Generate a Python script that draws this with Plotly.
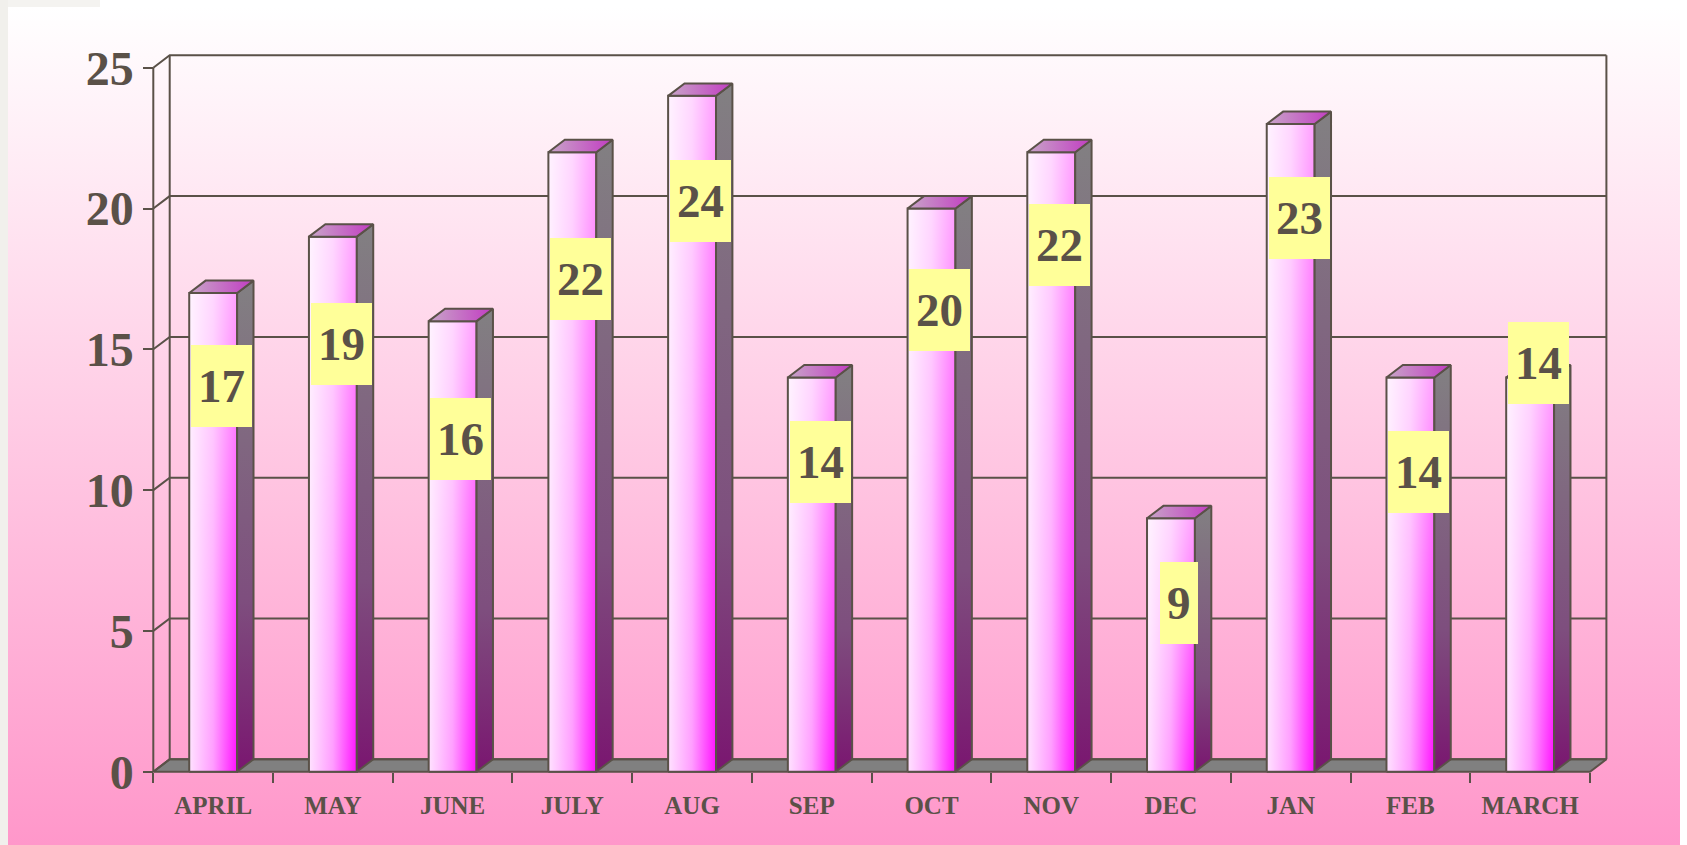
import plotly.graph_objects as go

# ---------------- data ----------------
months = ["APRIL", "MAY", "JUNE", "JULY", "AUG", "SEP", "OCT", "NOV", "DEC", "JAN", "FEB", "MARCH"]
values = [17, 19, 16, 22, 24, 14, 20, 22, 9, 23, 14, 14]
y_ticks = [0, 5, 10, 15, 20, 25]

# label box vertical shift relative to bar top (layout, not data)
label_shift = [-3.3, -3.8, -4.2, -4.5, -3.75, -3.0, -3.6, -3.3, -3.0, -3.35, -3.35, 0.5]

# ---------------- geometry / style ----------------
W, H = 1687, 845
INK = "#5a5148"
FONT = "Liberation Serif"
n = len(months)
YTOP = y_ticks[-1]

PX0, PX1 = 153.3, 1590.0      # front plane x of first / last category boundary
PY0, PYTOP = 771.7, 67.7      # front plane y of 0 and of top tick
ux = (PX1 - PX0) / n
uy = (PY0 - PYTOP) / YTOP
DX = 16.4 / ux                # depth offset in data units
DY = 12.4 / uy
BW = 0.2                      # half bar width

L, R, T, B = 146, 1616, 46, 780
xmin = -0.5 - (PX0 - L) / ux
xmax = n - 0.5 + (R - PX1) / ux
ymin = -(B - PY0) / uy
ymax = YTOP + (PYTOP - T) / uy

fig = go.Figure()

# ---------------- background gradient (own subplot) ----------------
fig.add_trace(go.Scatter(
    x=[8, 1680, 1680, 8, 8], y=[0, 0, H - 7, H - 7, 0],
    mode="lines", line=dict(width=0), fill="toself",
    fillgradient=dict(type="vertical", colorscale=[[0, "#FF97CA"], [1, "#FFFFFF"]]),
    xaxis="x", yaxis="y", hoverinfo="skip", showlegend=False))

XA, YA = "x2", "y2"

# ---------------- floor ----------------
fig.add_trace(go.Scatter(
    x=[-0.5, n - 0.5, n - 0.5 + DX, -0.5 + DX, -0.5],
    y=[0, 0, DY, DY, 0],
    mode="lines", fill="toself", fillcolor="#808080",
    line=dict(color=INK, width=2), xaxis=XA, yaxis=YA,
    hoverinfo="skip", showlegend=False))

# ---------------- walls / gridlines ----------------
gx, gy = [], []
for v in y_ticks:
    gx += [-0.5, -0.5 + DX, n - 0.5 + DX, None]
    gy += [v, v + DY, v + DY, None]
gx += [-0.5 + DX, -0.5 + DX, None, n - 0.5 + DX, n - 0.5 + DX, None, -0.5, -0.5]
gy += [DY, YTOP + DY, None, DY, YTOP + DY, None, 0, YTOP]
fig.add_trace(go.Scatter(
    x=gx, y=gy, mode="lines", line=dict(color=INK, width=2),
    xaxis=XA, yaxis=YA, hoverinfo="skip", showlegend=False))

# ---------------- bars ----------------
for i, v in enumerate(values):
    x0, x1 = i - BW, i + BW
    fx = [x0, x1, x1, x0, x0]
    fy = [0, 0, v, v, 0]
    # front face: horizontal white -> magenta
    fig.add_trace(go.Scatter(
        x=fx, y=fy, mode="lines", line=dict(width=0), fill="toself",
        fillgradient=dict(type="horizontal",
                          colorscale=[[0, "#FFE2FF"], [0.5, "#FF9CFF"], [1, "#FF10FF"]]),
        xaxis=XA, yaxis=YA, hoverinfo="skip", showlegend=False))
    # front face: whitening toward the top
    fig.add_trace(go.Scatter(
        x=fx, y=fy, mode="lines", line=dict(color=INK, width=2), fill="toself",
        fillgradient=dict(type="vertical",
                          colorscale=[[0, "rgba(255,255,255,0)"], [1, "rgba(255,255,255,0.6)"]]),
        xaxis=XA, yaxis=YA, hoverinfo="skip", showlegend=False))
    # side face
    fig.add_trace(go.Scatter(
        x=[x1, x1 + DX, x1 + DX, x1, x1], y=[0, DY, v + DY, v, 0],
        mode="lines", line=dict(color=INK, width=2), fill="toself",
        fillgradient=dict(type="vertical",
                          colorscale=[[0, "#7A1670"], [0.35, "#7E4E7E"], [1, "#828082"]]),
        xaxis=XA, yaxis=YA, hoverinfo="skip", showlegend=False))
    # top face
    fig.add_trace(go.Scatter(
        x=[x0, x0 + DX, x1 + DX, x1, x0], y=[v, v + DY, v + DY, v, v],
        mode="lines", line=dict(color=INK, width=2), fill="toself",
        fillgradient=dict(type="horizontal",
                          colorscale=[[0, "#C8A6C8"], [1, "#C23CC2"]]),
        xaxis=XA, yaxis=YA, hoverinfo="skip", showlegend=False))

# ---------------- value labels ----------------
annotations = []
for i, v in enumerate(values):
    annotations.append(dict(
        x=i + 0.07, y=v + label_shift[i], xref=XA, yref=YA,
        text=str(v), showarrow=False,
        font=dict(family=FONT, size=47, color=INK, weight="bold"),
        bgcolor="#FFFF99", borderpad=7, borderwidth=0, height=68,
        xanchor="center", yanchor="middle"))

# ---------------- page strips ----------------
shapes = [
    dict(type="rect", xref="paper", yref="paper", x0=0, x1=8 / W, y0=0, y1=1,
         fillcolor="#F1F0EC", line=dict(width=0), layer="below"),
    dict(type="rect", xref="paper", yref="paper", x0=8 / W, x1=100 / W, y0=1 - 7 / H, y1=1,
         fillcolor="#F4F3F0", line=dict(width=0), layer="below"),
]

fig.update_layout(
    width=W, height=H, autosize=False, margin=dict(l=0, r=0, t=0, b=0, pad=0),
    paper_bgcolor="#FFFFFF", plot_bgcolor="rgba(0,0,0,0)",
    showlegend=False, annotations=annotations, shapes=shapes,
    xaxis=dict(domain=[0, 1], range=[0, W], visible=False, fixedrange=True),
    yaxis=dict(domain=[0, 1], range=[0, H], visible=False, fixedrange=True),
    xaxis2=dict(
        domain=[L / W, R / W], range=[xmin, xmax], anchor="free", position=(H - PY0) / H,
        tickmode="array", tickvals=list(range(n)), ticktext=months, ticks="",
        tickfont=dict(family=FONT, size=25, color=INK, weight="bold"),
        ticklabelstandoff=16,
        minor=dict(tickmode="array", tickvals=[k - 0.5 for k in range(n + 1)],
                   ticks="outside", ticklen=10, tickwidth=2, tickcolor=INK, showgrid=False),
        showgrid=False, zeroline=False, showline=False, fixedrange=True, automargin=False),
    yaxis2=dict(
        domain=[(H - B) / H, (H - T) / H], range=[ymin, ymax], anchor="free", position=PX0 / W,
        tickmode="array", tickvals=y_ticks, ticks="outside", ticklen=10, tickwidth=2,
        tickcolor=INK, tickfont=dict(family=FONT, size=48, color=INK, weight="bold"),
        showgrid=False, zeroline=False, showline=False, fixedrange=True, automargin=False),
)

fig.write_html(
    "out.html",
    config={"responsive": False, "displayModeBar": False},
    post_script="document.body.style.margin='0';document.documentElement.style.overflow='hidden';",
)
